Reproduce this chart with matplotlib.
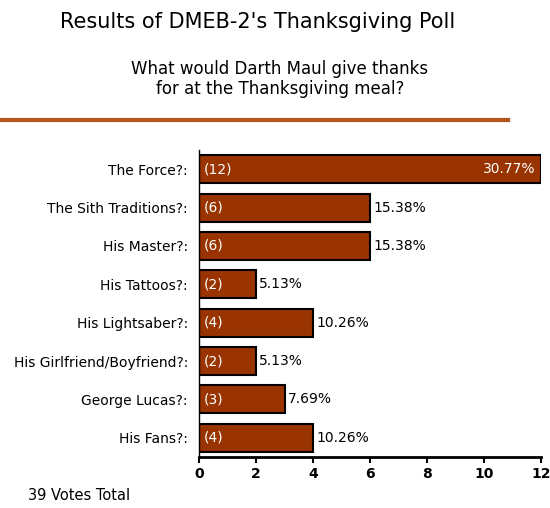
import matplotlib
matplotlib.use("Agg")
import matplotlib.pyplot as plt

categories = ["The Force?:", "The Sith Traditions?:", "His Master?:", "His Tattoos?:",
              "His Lightsaber?:", "His Girlfriend/Boyfriend?:", "George Lucas?:", "His Fans?:"]
votes = [12, 6, 6, 2, 4, 2, 3, 4]
percents = ["30.77%", "15.38%", "15.38%", "5.13%", "10.26%", "5.13%", "7.69%", "10.26%"]
ticks = [0, 2, 4, 6, 8, 10, 12]

W, H = 550, 508
fig = plt.figure(figsize=(W/100, H/100), dpi=100)
ax = fig.add_axes([199/W, 1-457/H, 342/W, 307/H])
ys = list(range(len(categories)))
ax.barh(ys, votes, height=0.73, color="#993300", edgecolor="black", linewidth=1.5)
ax.set_ylim(len(categories)-0.5, -0.5)
ax.set_xlim(0, 12)
ax.set_xticks(ticks)
ax.set_xticklabels([str(t) for t in ticks], fontweight="bold", fontsize=10)
ax.set_yticks(ys)
ax.set_yticklabels(categories, fontsize=10)
ax.tick_params(axis="y", length=0, pad=8)
ax.tick_params(axis="x", length=4, width=1.5)
for s in ["top", "right"]:
    ax.spines[s].set_visible(False)
ax.spines["bottom"].set_linewidth(2)
ax.spines["left"].set_linewidth(1)
for y, v, p in zip(ys, votes, percents):
    ax.text(0.15, y, f"({v})", color="white", va="center", ha="left", fontsize=10)
    if v >= 10:
        ax.text(v-0.2, y, p, color="white", va="center", ha="right", fontsize=10)
    else:
        ax.text(v+0.12, y, p, color="black", va="center", ha="left", fontsize=10)

fig.text(258/W, 1-22/H, "Results of DMEB-2's Thanksgiving Poll", ha="center", va="center", fontsize=15)
fig.text(280/W, 1-79/H, "What would Darth Maul give thanks\nfor at the Thanksgiving meal?",
         ha="center", va="center", fontsize=12, linespacing=1.2)
fig.add_artist(plt.Line2D([0, 508/W], [1-120/H, 1-120/H], color="#b5541f", linewidth=3))
fig.text(28/W, 1-496/H, "39 Votes Total", ha="left", va="center", fontsize=10.5)
fig.savefig("out.png", dpi=100)
